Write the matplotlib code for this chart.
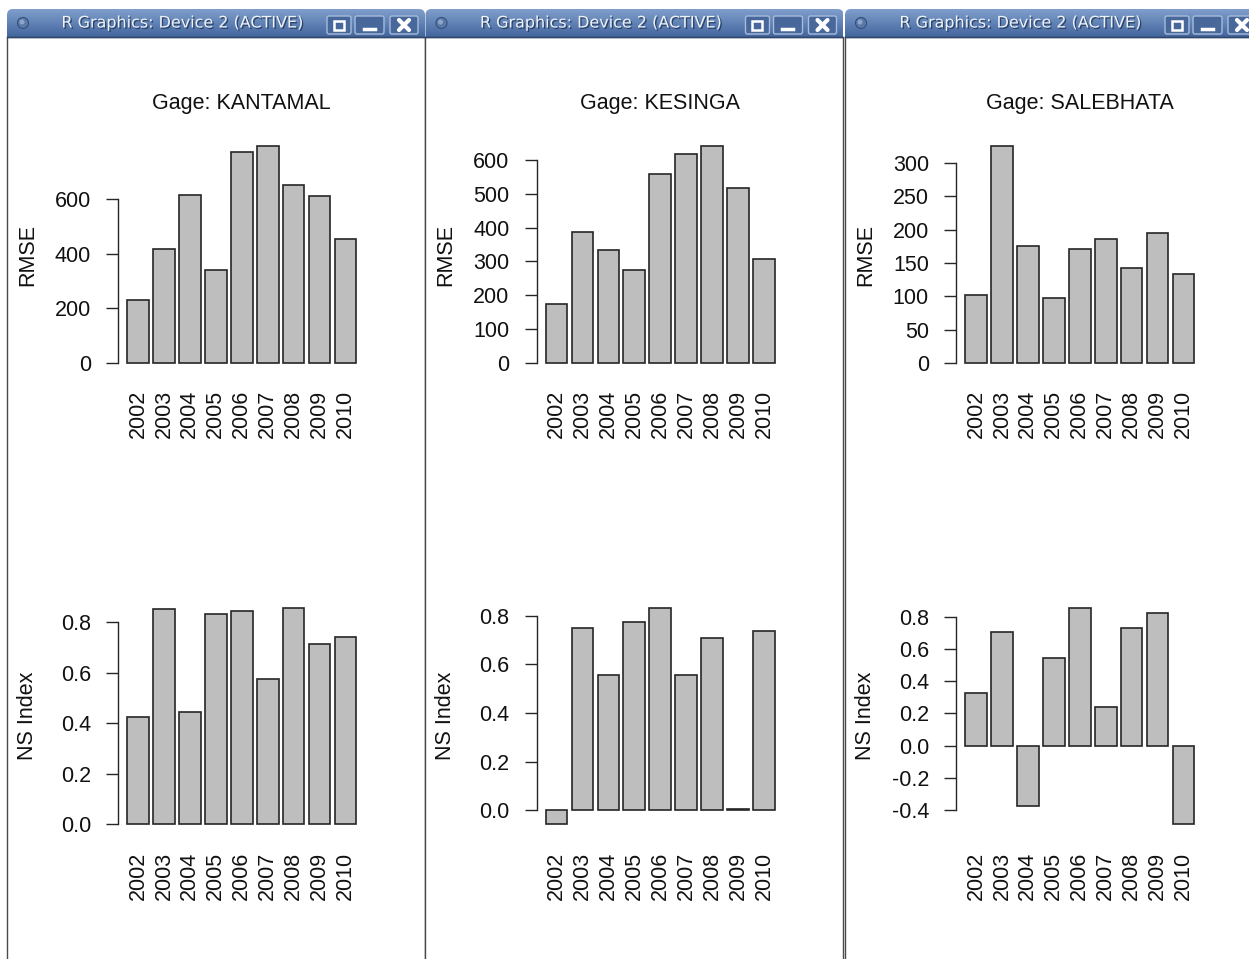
"""RMSE and Nash-Sutcliffe index per year for three gauging stations."""

import matplotlib.patheffects as pe
import matplotlib.pyplot as plt
import numpy as np
from matplotlib.patches import Circle, FancyBboxPatch, Rectangle

years = ["2002", "2003", "2004", "2005", "2006", "2007", "2008", "2009", "2010"]
gages = ["KANTAMAL", "KESINGA", "SALEBHATA"]

rmse_kantamal = [230, 418, 615, 339, 773, 794, 651, 612, 453]
rmse_kesinga = [175, 386, 333, 275, 559, 618, 641, 516, 306]
rmse_salebhata = [102, 325, 175, 98, 171, 186, 143, 195, 133]

ns_kantamal = [0.423, 0.851, 0.443, 0.830, 0.845, 0.573, 0.855, 0.712, 0.739]
ns_kesinga = [-0.058, 0.750, 0.558, 0.773, 0.831, 0.557, 0.709, 0.006, 0.739]
ns_salebhata = [0.324, 0.706, -0.373, 0.541, 0.853, 0.241, 0.727, 0.822, -0.488]

rmse_ticks = [[0, 200, 400, 600], [0, 100, 200, 300, 400, 500, 600], [0, 50, 100, 150, 200, 250, 300]]
ns_ticks = [[0.0, 0.2, 0.4, 0.6, 0.8], [0.0, 0.2, 0.4, 0.6, 0.8], [-0.4, -0.2, 0.0, 0.2, 0.4, 0.6, 0.8]]

window_title = "R Graphics: Device 2 (ACTIVE)"

# page geometry in pixels
W, H = 1249, 959
WIN_LEFT = [7, 425.5, 845]
WIN_WIDTH = 418
BAR_TOP, BAR_BOTTOM = 9, 37
PLOT_OFFSET, PLOT_WIDTH = 111, 247.5
ROWS = [(137.5, 371.5), (599.5, 833.0)]

FONT = "Liberation Sans"
FS = 15.5
INK = "#262626"

fig = plt.figure(figsize=(W / 100, H / 100), dpi=100)
fig.patch.set_facecolor("white")

# window decorations are drawn in pixel space on a full-figure axes
chrome = fig.add_axes([0, 0, 1, 1])
chrome.set_xlim(0, W)
chrome.set_ylim(H, 0)
chrome.axis("off")

grad = np.linspace(0, 1, 64)[:, None]
top_rgb = np.array([0.50, 0.62, 0.80])
bot_rgb = np.array([0.26, 0.40, 0.62])
grad_img = (top_rgb * (1 - grad) + bot_rgb * grad)[:, None, :].repeat(2, axis=1)

for x0 in WIN_LEFT:
    x1 = x0 + WIN_WIDTH
    box = FancyBboxPatch((x0, BAR_TOP), WIN_WIDTH, 40, boxstyle="round,pad=0,rounding_size=6",
                         facecolor="none", edgecolor="none")
    chrome.add_patch(box)
    img = chrome.imshow(grad_img, extent=(x0, x1, BAR_BOTTOM, BAR_TOP), aspect="auto",
                        interpolation="bilinear", zorder=1)
    img.set_clip_path(box)
    chrome.add_patch(Rectangle((x0, BAR_BOTTOM), WIN_WIDTH, H, facecolor="white",
                               edgecolor="#4a4a4a", linewidth=1.0, zorder=2))
    chrome.plot([x0, x1], [BAR_BOTTOM, BAR_BOTTOM], color="#2c4670", lw=1.0, zorder=3)

    # window menu dot
    chrome.add_patch(Circle((x0 + 16, 23), 5.5, facecolor="#5b79a8", edgecolor="#34507c",
                            linewidth=0.8, zorder=3))
    chrome.add_patch(Circle((x0 + 15, 22), 2.5, facecolor="#8ea6cb", edgecolor="none", zorder=3))

    chrome.text(x0 + 176, 23, window_title, ha="center", va="center", fontsize=11.5,
                family="DejaVu Sans", color="#eef2f8", zorder=4,
                path_effects=[pe.withSimplePatchShadow(offset=(1, -1), shadow_rgbFace="#203656", alpha=0.8)])

    # maximise / minimise / close buttons
    for bx0, bx1 in [(320, 344), (348, 377), (383, 411)]:
        chrome.add_patch(FancyBboxPatch((x0 + bx0, 16), bx1 - bx0, 18,
                                        boxstyle="round,pad=0,rounding_size=2",
                                        facecolor="#48689b", edgecolor="#a7bcdc", linewidth=1.0, zorder=3))
    chrome.add_patch(Rectangle((x0 + 327, 20.5), 10, 9, facecolor="none", edgecolor="white",
                               linewidth=1.8, zorder=4))
    chrome.plot([x0 + 357, x0 + 368], [29, 29], color="white", lw=2.5, zorder=4)
    chrome.plot([x0 + 392, x0 + 402], [20, 30], color="white", lw=3, zorder=4, solid_capstyle="round")
    chrome.plot([x0 + 392, x0 + 402], [30, 20], color="white", lw=3, zorder=4, solid_capstyle="round")


def px_axes(x0, y0, x1, y1):
    return fig.add_axes([x0 / W, 1 - y1 / H, (x1 - x0) / W, (y1 - y0) / H])


def r_barplot(ax, values, ticks, fmt, ylabel, title=None):
    n = len(values)
    pos = 0.7 + 1.2 * np.arange(n)
    ax.bar(pos, values, width=1.0, color="#bebebe", edgecolor=INK, linewidth=1.2)

    # mimic R's default 4% axis extension
    right = 1.2 * n
    xpad = 0.04 * (right - 0.2)
    ax.set_xlim(0.2 - xpad, right + xpad)
    lo, hi = min(0, min(values)), max(0, max(values))
    ypad = 0.04 * (hi - lo)
    ax.set_ylim(lo - ypad, hi + ypad)

    ax.set_facecolor("none")
    for side in ["top", "right", "bottom"]:
        ax.spines[side].set_visible(False)
    ax.spines["left"].set_bounds(ticks[0], ticks[-1])
    ax.spines["left"].set_color(INK)
    ax.spines["left"].set_linewidth(1.0)

    ax.set_yticks(ticks)
    ax.set_yticklabels([fmt.format(t) for t in ticks], family=FONT, fontsize=FS, color="#111111")
    ax.tick_params(axis="y", direction="out", length=9, width=1.0, color=INK, pad=10.5)
    ax.set_xticks(pos)
    ax.set_xticklabels(years, rotation=90, family=FONT, fontsize=FS, color="#111111")
    ax.tick_params(axis="x", length=0, pad=13.5)

    ax.set_ylabel(ylabel, family=FONT, fontsize=FS, color="#111111")
    ax.yaxis.set_label_coords(-0.324, 0.5)
    if title:
        ax.set_title(title, family=FONT, fontsize=FS, pad=20.5, color="#111111")


rmse_all = [rmse_kantamal, rmse_kesinga, rmse_salebhata]
ns_all = [ns_kantamal, ns_kesinga, ns_salebhata]

for i, gage in enumerate(gages):
    left = WIN_LEFT[i] + PLOT_OFFSET
    top_ax = px_axes(left, ROWS[0][0], left + PLOT_WIDTH, ROWS[0][1])
    r_barplot(top_ax, rmse_all[i], rmse_ticks[i], "{:d}", "RMSE", title=f"Gage: {gage}")
    bot_ax = px_axes(left, ROWS[1][0], left + PLOT_WIDTH, ROWS[1][1])
    r_barplot(bot_ax, ns_all[i], ns_ticks[i], "{:.1f}", "NS Index")

fig.savefig("out.png", dpi=100, facecolor="white")
